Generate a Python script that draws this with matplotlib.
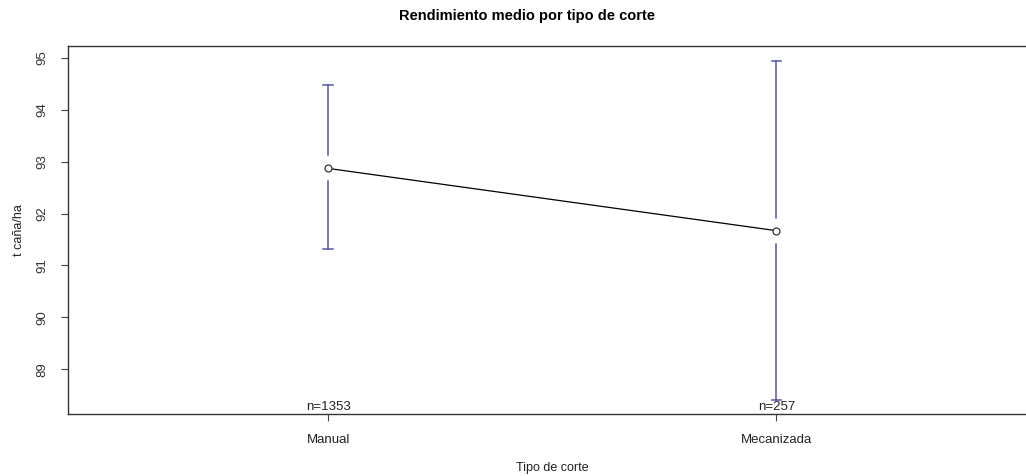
import numpy as np
import matplotlib.pyplot as plt

# Mean yield by cutting type, with confidence interval limits
groups = ['Manual', 'Mecanizada']
means = [92.87, 91.67]
ci_low = [91.32, 88.41]
ci_high = [94.47, 94.94]
counts = [1353, 257]
yticks = [89, 90, 91, 92, 93, 94, 95]

plt.rcParams['font.family'] = ['Liberation Sans', 'DejaVu Sans']

fig = plt.figure(figsize=(10.26, 4.76), dpi=100)
# right edge of the box runs past the figure border
ax = fig.add_axes([0.0663, 0.130, 0.944, 0.7735])

x = np.arange(1, len(groups) + 1)
barcol = '#5656a8'
gap = 0.25
cap = 0.011
for xi, m, lo, hi in zip(x, means, ci_low, ci_high):
    ax.plot([xi, xi], [lo, m - gap], color=barcol, lw=1.1)
    ax.plot([xi, xi], [m + gap, hi], color=barcol, lw=1.1)
    ax.plot([xi - cap, xi + cap], [lo, lo], color=barcol, lw=1.1)
    ax.plot([xi - cap, xi + cap], [hi, hi], color=barcol, lw=1.1)

ax.plot(x, means, color='black', lw=0.9, marker='o', markersize=5,
        markerfacecolor='white', markeredgecolor='#333333', markeredgewidth=0.9)

ax.set_xlim(0.42, 2.58)
ax.set_ylim(88.135, 95.23)

ax.set_xticks(x)
ax.set_xticklabels(groups, fontsize=9.5, color='#222222')
ax.set_yticks(yticks)
ax.set_yticklabels([str(t) for t in yticks], fontsize=9.5, color='#333333',
                   rotation=90, va='center')
ax.tick_params(axis='both', direction='out', length=5, width=0.8,
               colors='#444444', pad=4)
ax.tick_params(axis='x', labelcolor='#222222', pad=9)
ax.tick_params(axis='y', labelcolor='#333333', pad=9)

for xi, n in zip(x, counts):
    ax.text(xi, 88.135 + 0.03, f'n={n}', ha='center', va='bottom',
            fontsize=9.5, color='#222222')

for side in ['left', 'top', 'right', 'bottom']:
    ax.spines[side].set_color('#333333')
    ax.spines[side].set_linewidth(1.0)

ax.set_title('Rendimiento medio por tipo de corte', fontsize=10.5,
             fontweight='bold', pad=19, x=0.474)
ax.set_xlabel('Tipo de corte', fontsize=9, color='#222222', labelpad=12)
ax.set_ylabel('t caña/ha', fontsize=9, color='#222222', labelpad=8)

fig.savefig('out.png', dpi=100)
